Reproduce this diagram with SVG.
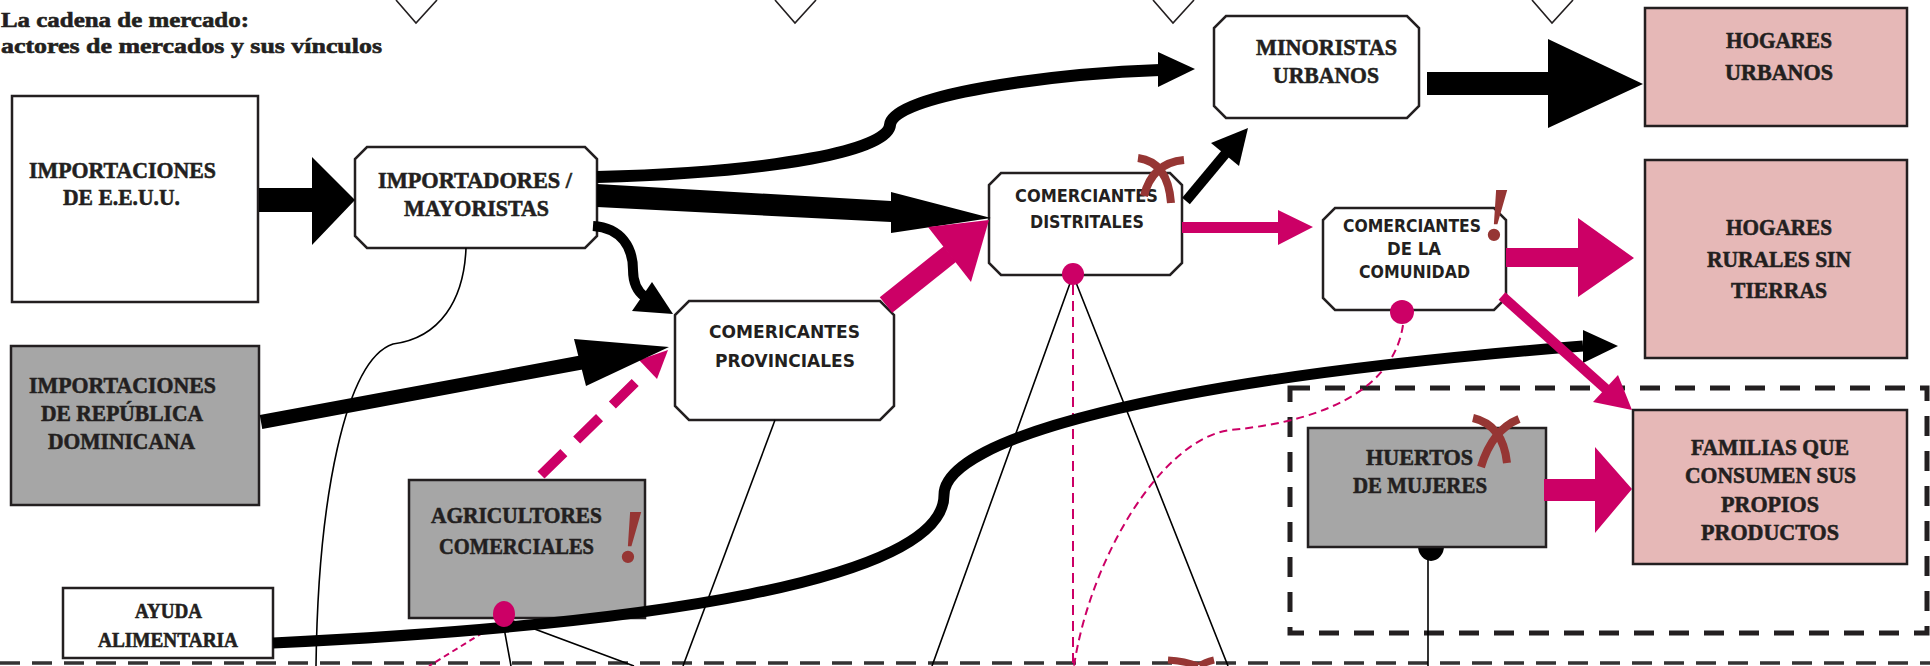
<svg xmlns="http://www.w3.org/2000/svg" width="1930" height="666" viewBox="0 0 1930 666">
<style>
.box{stroke:#231f20;stroke-width:2.5}
.w{fill:#fff}
.g{fill:#a6a6a6}
.p{fill:#e6b8b7}
.serif{font-family:"Liberation Serif","DejaVu Serif",serif;font-weight:bold;font-size:24px;fill:#231f20;stroke:#231f20;stroke-width:0.6}
.sans{font-family:"DejaVu Sans","Liberation Sans",sans-serif;font-weight:bold;font-size:18px;fill:#231f20}
.blk{fill:#000}
.pk{fill:#cc0066}
.blkline{fill:none;stroke:#000}
.pkline{fill:none;stroke:#cc0066}
.thin{fill:none;stroke:#000;stroke-width:1.6}
.dpk{fill:none;stroke:#cc0066;stroke-width:2;stroke-dasharray:8 5}
.cut{fill:none;stroke:#963634;stroke-width:8}
.bang{font-family:"Liberation Serif",serif;font-style:italic;font-weight:bold;font-size:76px;fill:#963634}
.tri{fill:none;stroke:#231f20;stroke-width:1.6}
.frame{fill:none;stroke:#231f20;stroke-width:5;stroke-dasharray:20 15}
.base{fill:none;stroke:#333;stroke-width:3.5;stroke-dasharray:20 12}
</style>

<!-- title -->
<g id="title">
<text class="serif" style="font-size:22px" x="1" y="27" textLength="248" lengthAdjust="spacingAndGlyphs">La cadena de mercado:</text>
<text class="serif" style="font-size:22px" x="1" y="53" textLength="381" lengthAdjust="spacingAndGlyphs">actores de mercados y sus vínculos</text>
</g>

<!-- top markers -->
<g id="top-markers">
<polyline class="tri" points="396,0 416,23 437,0"/>
<polyline class="tri" points="775,0 795,23 816,0"/>
<polyline class="tri" points="1153,0 1173,23 1194,0"/>
<polyline class="tri" points="1532,0 1552,23 1573,0"/>
</g>

<!-- frames -->
<g id="frames">
<rect class="frame" x="1290" y="388" width="637" height="245"/>
<line class="base" x1="0" y1="663" x2="1930" y2="663"/>
</g>

<!-- nodes -->
<g id="importaciones-eeuu">
<rect class="box w" x="12" y="96" width="246" height="206"/>
<text class="serif" x="29" y="178" textLength="187" lengthAdjust="spacingAndGlyphs">IMPORTACIONES</text>
<text class="serif" x="63" y="205" textLength="117" lengthAdjust="spacingAndGlyphs">DE E.E.U.U.</text>
</g>
<g id="importaciones-rd">
<rect class="box g" x="11" y="346" width="248" height="159"/>
<text class="serif" x="29" y="393" textLength="187" lengthAdjust="spacingAndGlyphs">IMPORTACIONES</text>
<text class="serif" x="41" y="421" textLength="162" lengthAdjust="spacingAndGlyphs">DE REPÚBLICA</text>
<text class="serif" x="48" y="449" textLength="147" lengthAdjust="spacingAndGlyphs">DOMINICANA</text>
</g>
<g id="ayuda-alimentaria">
<rect class="box w" x="63" y="588" width="210" height="70"/>
<text class="serif" style="font-size:21px" x="135" y="618" textLength="67" lengthAdjust="spacingAndGlyphs">AYUDA</text>
<text class="serif" style="font-size:21px" x="98" y="647" textLength="140" lengthAdjust="spacingAndGlyphs">ALIMENTARIA</text>
</g>
<g id="agricultores-comerciales">
<rect class="box g" x="409" y="480" width="236" height="138"/>
<text class="serif" x="431" y="523" textLength="171" lengthAdjust="spacingAndGlyphs">AGRICULTORES</text>
<text class="serif" x="439" y="554" textLength="155" lengthAdjust="spacingAndGlyphs">COMERCIALES</text>
</g>
<g id="importadores-mayoristas">
<path class="box w" d="M367 147 H585 L597 159 V236 L585 248 H367 L355 236 V159 Z"/>
<text class="serif" x="378" y="188" textLength="194" lengthAdjust="spacingAndGlyphs">IMPORTADORES /</text>
<text class="serif" x="404" y="216" textLength="145" lengthAdjust="spacingAndGlyphs">MAYORISTAS</text>
</g>
<g id="comerciantes-provinciales">
<path class="box w" d="M689 301 H880 L894 315 V406 L880 420 H689 L675 406 V315 Z"/>
<text class="sans" x="709" y="338" textLength="151" lengthAdjust="spacingAndGlyphs">COMERICANTES</text>
<text class="sans" x="715" y="367" textLength="140" lengthAdjust="spacingAndGlyphs">PROVINCIALES</text>
</g>
<g id="comerciantes-distritales">
<path class="box w" d="M1001 173 H1170 L1182 185 V263 L1170 275 H1001 L989 263 V185 Z"/>
<text class="sans" x="1015" y="202" textLength="143" lengthAdjust="spacingAndGlyphs">COMERCIANTES</text>
<text class="sans" x="1030" y="228" textLength="114" lengthAdjust="spacingAndGlyphs">DISTRITALES</text>
</g>
<g id="minoristas-urbanos">
<path class="box w" d="M1226 16 H1407 L1419 28 V106 L1407 118 H1226 L1214 106 V28 Z"/>
<text class="serif" x="1256" y="55" textLength="141" lengthAdjust="spacingAndGlyphs">MINORISTAS</text>
<text class="serif" x="1273" y="83" textLength="106" lengthAdjust="spacingAndGlyphs">URBANOS</text>
</g>
<g id="comerciantes-comunidad">
<path class="box w" d="M1335 208 H1494 L1506 220 V298 L1494 310 H1335 L1323 298 V220 Z"/>
<text class="sans" x="1343" y="232" textLength="138" lengthAdjust="spacingAndGlyphs">COMERCIANTES</text>
<text class="sans" x="1387" y="255" textLength="54" lengthAdjust="spacingAndGlyphs">DE LA</text>
<text class="sans" x="1359" y="278" textLength="111" lengthAdjust="spacingAndGlyphs">COMUNIDAD</text>
</g>
<g id="hogares-urbanos">
<rect class="box p" x="1645" y="8" width="262" height="118"/>
<text class="serif" x="1726" y="48" textLength="106" lengthAdjust="spacingAndGlyphs">HOGARES</text>
<text class="serif" x="1725" y="80" textLength="108" lengthAdjust="spacingAndGlyphs">URBANOS</text>
</g>
<g id="hogares-rurales">
<rect class="box p" x="1645" y="160" width="262" height="198"/>
<text class="serif" x="1726" y="235" textLength="106" lengthAdjust="spacingAndGlyphs">HOGARES</text>
<text class="serif" x="1707" y="267" textLength="144" lengthAdjust="spacingAndGlyphs">RURALES SIN</text>
<text class="serif" x="1731" y="298" textLength="96" lengthAdjust="spacingAndGlyphs">TIERRAS</text>
</g>
<g id="huertos-mujeres">
<path class="blk" d="M1418 546 A13 15 0 0 0 1444 546 Z"/>
<rect class="box g" x="1308" y="428" width="238" height="119"/>
<text class="serif" x="1366" y="465" textLength="107" lengthAdjust="spacingAndGlyphs">HUERTOS</text>
<text class="serif" x="1353" y="493" textLength="134" lengthAdjust="spacingAndGlyphs">DE MUJERES</text>
</g>
<g id="familias">
<rect class="box p" x="1633" y="410" width="274" height="154"/>
<text class="serif" x="1691" y="455" textLength="158" lengthAdjust="spacingAndGlyphs">FAMILIAS QUE</text>
<text class="serif" x="1685" y="483" textLength="171" lengthAdjust="spacingAndGlyphs">CONSUMEN SUS</text>
<text class="serif" x="1721" y="512" textLength="98" lengthAdjust="spacingAndGlyphs">PROPIOS</text>
<text class="serif" x="1701" y="540" textLength="138" lengthAdjust="spacingAndGlyphs">PRODUCTOS</text>
</g>

<!-- connectors -->
<g id="connectors">
<!-- thin links -->
<path class="thin" d="M466 248 C464 300 440 338 393 344 C345 360 318 500 316 666"/>
<path class="thin" d="M775 420 L683 666"/>
<polyline class="thin" points="932,666 1073,275 1228,666"/>
<polyline class="thin" points="511,666 502,617 634,666"/>
<path class="thin" d="M1428 560 V666"/>
<path class="dpk" style="stroke-dasharray:10 6" d="M1073 285 V666"/>
<path class="dpk" d="M1403 325 C1395 380 1340 420 1230 430 C1160 440 1090 560 1074 666"/>
<path class="dpk" style="stroke-dasharray:6 4" d="M500 622 L429 666"/>

<!-- pink dashed agricultores -> provinciales -->
<path class="pkline" style="stroke-width:10;stroke-dasharray:32 18" d="M541 475 L648 370"/>
<polygon class="pk" points="639,360 668,350 657,379"/>

<!-- black flows -->
<polygon class="blk" points="259,188 312,188 312,157 355,200 312,245 312,212 259,212"/>
<path class="blkline" style="stroke-width:12" d="M597 177 C780 172 888 150 890 125 C892 95 1050 74 1160 70"/>
<polygon class="blk" points="1158,52 1195,69 1158,87"/>
<polygon class="blk" points="597,184 891,201 891,192 991,218 891,233 891,222 597,207"/>
<path class="blkline" style="stroke-width:10" d="M593 226 C622 228 633 248 633 270 C633 284 638 292 645 297"/>
<polygon class="blk" points="632,311 652,282 673,314"/>
<path class="blkline" style="stroke-width:14" d="M261 422 L584 362"/>
<polygon class="blk" points="574,339 669,347 586,386"/>
<path class="blkline" style="stroke-width:10" d="M1186 201 L1226 153"/>
<polygon class="blk" points="1211,143 1248,128 1239,166"/>
<polygon class="blk" points="1427,72 1548,72 1548,39 1643,84 1548,128 1548,95 1427,95"/>
<path class="blkline" style="stroke-width:11" d="M273 643 C650 625 944 580 944 495 C944 440 1150 380 1583 346"/>
<polygon class="blk" points="1583,330 1618,346 1583,363"/>

<!-- pink flows -->
<path class="pkline" style="stroke-width:20" d="M886 305 L950 254"/>
<polygon class="pk" points="928,227 989,220 971,282"/>
<polygon class="pk" points="1182,222 1278,222 1278,210 1313,227 1278,245 1278,233 1182,233"/>
<polygon class="pk" points="1506,248 1578,248 1578,218 1634,258 1578,297 1578,267 1506,267"/>
<path class="pkline" style="stroke-width:10" d="M1502 296 L1606 389"/>
<polygon class="pk" points="1593,402 1618,375 1632,410"/>
<polygon class="pk" points="1544,479 1595,479 1595,447 1632,489 1595,533 1595,501 1544,501"/>

<!-- connection dots -->
<circle class="pk" cx="1073" cy="274" r="11"/>
<circle class="pk" cx="1402" cy="312" r="12"/>
<ellipse class="pk" cx="504" cy="614" rx="11" ry="13"/>
</g>

<!-- warning / break marks -->
<g id="marks">
<path class="cut" d="M1138 158 Q1168 162 1171 203"/>
<path class="cut" d="M1184 160 Q1152 163 1144 196"/>
<path class="cut" d="M1473 418 Q1503 425 1507 463"/>
<path class="cut" d="M1519 419 Q1492 430 1481 467"/>
<path class="cut" style="stroke-width:7" d="M1168 660 Q1185 661 1198 666"/>
<path class="cut" style="stroke-width:7" d="M1214 660 Q1205 662 1200 666"/>
<text class="bang" x="1482" y="240">!</text>
<text class="bang" x="616" y="562">!</text>
</g>
</svg>
